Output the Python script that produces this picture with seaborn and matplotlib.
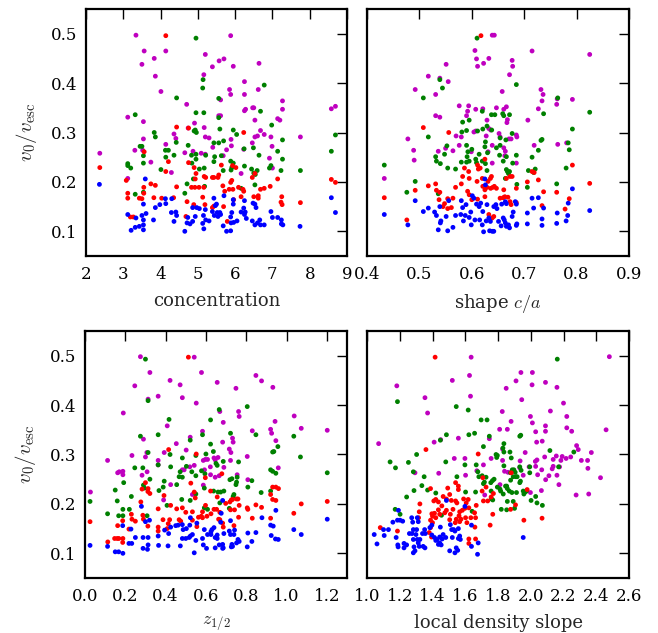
import numpy as np
import pandas as pd
import matplotlib
matplotlib.use("Agg")
import matplotlib.pyplot as plt
import seaborn as sns

# ---------------- data ----------------
# Panel 1: concentration
conc_m_x = [3.34, 3.56, 4.14, 3.83, 3.5, 3.86, 4.01, 5.2, 5.39, 5.16, 4.7, 3.12, 3.54, 4.36, 4.41, 4.91, 5.17, 4.74, 5.2, 5.3,
            4.14, 3.54, 3.31, 3.52, 4.65, 4.87, 5.2, 2.37, 3.74, 4.29, 3.12, 5.09, 5.4,
            5.88, 5.57, 5.7, 5.95, 6.64, 6.25, 5.85, 5.88, 6.25, 6.62, 5.61, 7.27, 7.27, 6.25, 6.28, 6.47, 6.5, 6.53, 7.14,
            7.2, 5.56, 5.61, 8.58, 8.69, 7.75, 6.68, 6.6, 6.53, 6.78, 6.96, 6.99, 6.46, 5.89, 5.9, 5.77, 6.92, 5.68, 6.23,
            6.16, 7.0]
conc_m_y = [0.497, 0.465, 0.465, 0.45, 0.438, 0.414, 0.383, 0.458, 0.433, 0.417, 0.357, 0.331, 0.322, 0.297, 0.288, 0.319,
            0.31, 0.309, 0.291, 0.289, 0.276, 0.287, 0.264, 0.264, 0.259, 0.262, 0.256, 0.258, 0.24, 0.219, 0.207, 0.258, 0.27,
            0.496, 0.445, 0.449, 0.434, 0.44, 0.403, 0.387, 0.377, 0.377, 0.387, 0.366, 0.364, 0.347, 0.344, 0.347, 0.35, 0.35,
            0.325, 0.328, 0.325, 0.334, 0.334, 0.348, 0.353, 0.291, 0.304, 0.293, 0.291, 0.296, 0.291, 0.272, 0.279, 0.286,
            0.273, 0.265, 0.248, 0.253, 0.266, 0.217, 0.228]
conc_g_x = [4.95, 5.14, 5.13, 4.43, 3.32, 4.95, 5.16, 3.83, 3.86, 4.93, 4.9, 4.96, 3.45, 3.5, 4.13, 4.21, 4.42, 4.74, 3.54,
            3.54, 3.12, 3.12, 3.2, 4.14, 4.36, 4.01, 4.83, 4.95, 4.95, 4.84, 5.21, 5.04, 5.17, 4.88, 4.71, 5.18, 3.32, 3.54,
            4.65, 5.43,
            6.78, 6.68, 5.56, 5.56, 6.98, 5.59, 5.95, 6.04, 5.69, 5.56, 7.27, 7.14, 8.58, 8.69, 6.24, 6.49, 6.64, 7.27, 5.88,
            5.45, 5.63, 5.95, 6.25, 5.89, 5.68, 5.91, 6.44, 6.59, 6.54, 6.5, 6.96, 6.92, 7.23, 7.75, 6.16, 6.53, 5.43]
conc_g_y = [0.491, 0.407, 0.39, 0.37, 0.336, 0.34, 0.34, 0.3, 0.291, 0.305, 0.303, 0.3, 0.272, 0.272, 0.264, 0.264, 0.28,
            0.274, 0.253, 0.238, 0.237, 0.233, 0.228, 0.25, 0.254, 0.225, 0.254, 0.256, 0.246, 0.238, 0.254, 0.226, 0.228,
            0.206, 0.196, 0.191, 0.175, 0.179, 0.177, 0.279,
            0.396, 0.343, 0.369, 0.33, 0.315, 0.307, 0.305, 0.296, 0.283, 0.279, 0.285, 0.262, 0.262, 0.295, 0.267, 0.269,
            0.254, 0.246, 0.242, 0.251, 0.253, 0.238, 0.232, 0.224, 0.223, 0.229, 0.226, 0.223, 0.215, 0.218, 0.233, 0.228,
            0.223, 0.223, 0.187, 0.194, 0.241]
conc_r_x = [4.14, 4.43, 4.75, 3.56, 2.37, 4.14, 4.21, 4.75, 4.9, 4.95, 3.08, 3.74, 3.86, 4.43, 5.17, 5.39, 5.21, 3.12, 3.12,
            3.55, 3.55, 3.43, 3.5, 3.82, 4.03, 4.35, 4.71, 4.83, 4.92, 5.03, 4.93, 5.16, 5.13, 5.19, 4.68, 4.89, 5.39, 3.27,
            3.19,
            6.23, 5.93, 6.02, 5.63, 5.54, 5.43, 5.56, 5.67, 5.88, 5.91, 5.94, 6.09, 5.84, 6.46, 6.53, 6.94, 7.14, 6.68, 6.78,
            6.62, 6.5, 6.62, 6.23, 6.21, 6.16, 5.72, 7.25, 7.23, 7.26, 7.75, 8.58, 8.69, 5.96, 5.69, 5.43, 5.79]
conc_r_y = [0.496, 0.311, 0.309, 0.261, 0.229, 0.221, 0.241, 0.239, 0.229, 0.217, 0.203, 0.196, 0.193, 0.19, 0.211, 0.209,
            0.209, 0.177, 0.167, 0.189, 0.177, 0.167, 0.166, 0.168, 0.167, 0.168, 0.16, 0.189, 0.189, 0.189, 0.206, 0.189,
            0.169, 0.154, 0.13, 0.154, 0.148, 0.129, 0.129,
            0.3, 0.233, 0.229, 0.234, 0.209, 0.209, 0.214, 0.192, 0.199, 0.203, 0.185, 0.189, 0.185, 0.209, 0.217, 0.191,
            0.206, 0.185, 0.187, 0.172, 0.17, 0.167, 0.181, 0.185, 0.17, 0.181, 0.17, 0.159, 0.154, 0.158, 0.205, 0.199,
            0.164, 0.15, 0.151, 0.12]
conc_b_x = [2.36, 3.59, 3.54, 3.86, 3.98, 4.14, 4.13, 4.3, 3.12, 3.34, 3.5, 3.54, 3.61, 3.21, 3.32, 3.43, 3.54, 3.54, 3.81,
            4.29, 4.41, 4.43, 4.36, 4.65, 4.71, 4.79, 4.86, 4.93, 4.73, 4.86, 4.97, 5.04, 5.2, 5.15, 5.13, 5.16, 5.21, 5.3,
            5.43, 5.44, 5.39,
            8.58, 8.69, 5.7, 5.95, 5.95, 5.47, 5.5, 6.25, 6.48, 6.53, 6.56, 6.96, 6.23, 6.27, 5.52, 5.59, 5.54, 5.61, 5.91,
            5.88, 5.89, 5.96, 6.05, 6.16, 6.25, 6.3, 6.46, 6.53, 6.6, 6.68, 6.78, 6.66, 7.0, 7.14, 7.24, 7.24, 7.28, 7.74,
            5.77, 5.88, 5.68]
conc_b_y = [0.195, 0.206, 0.155, 0.148, 0.154, 0.156, 0.166, 0.166, 0.134, 0.127, 0.132, 0.123, 0.136, 0.102, 0.108, 0.11,
            0.113, 0.103, 0.123, 0.138, 0.139, 0.132, 0.12, 0.1, 0.117, 0.115, 0.12, 0.13, 0.128, 0.148, 0.148, 0.146,
            0.144, 0.132, 0.116, 0.105, 0.123, 0.121, 0.167, 0.132, 0.14,
            0.168, 0.138, 0.172, 0.164, 0.155, 0.152, 0.155, 0.162, 0.157, 0.155, 0.148, 0.14, 0.147, 0.139, 0.138, 0.138,
            0.13, 0.134, 0.138, 0.129, 0.117, 0.118, 0.121, 0.139, 0.134, 0.126, 0.121, 0.113, 0.117, 0.113, 0.113, 0.123,
            0.128, 0.128, 0.123, 0.115, 0.113, 0.11, 0.1, 0.101, 0.111]

# Panel 2: shape c/a
shape_m_x = [0.433, 0.478, 0.492, 0.517, 0.539, 0.531, 0.551, 0.555, 0.531, 0.539, 0.576, 0.594, 0.6075, 0.59, 0.592,
             0.606, 0.609, 0.611, 0.6225, 0.6325, 0.639, 0.621, 0.629, 0.6325, 0.636, 0.55, 0.536, 0.564, 0.576, 0.57,
             0.49, 0.58, 0.631, 0.6075, 0.604, 0.6275, 0.489, 0.599, 0.639,
             0.643, 0.715, 0.825, 0.677, 0.678, 0.672, 0.658, 0.732, 0.736, 0.734, 0.763, 0.762, 0.792, 0.727, 0.707,
             0.666, 0.661, 0.647, 0.668, 0.667, 0.685, 0.686, 0.652, 0.654, 0.671, 0.675, 0.661, 0.664, 0.663, 0.685,
             0.719, 0.764, 0.781, 0.639]
shape_m_y = [0.207, 0.287, 0.387, 0.414, 0.41, 0.377, 0.438, 0.403, 0.334, 0.331, 0.354, 0.354, 0.347, 0.334, 0.343,
             0.466, 0.449, 0.434, 0.44, 0.45, 0.497, 0.348, 0.325, 0.308, 0.305, 0.268, 0.262, 0.263, 0.274, 0.293,
             0.244, 0.291, 0.261, 0.303, 0.301, 0.293, 0.264, 0.261, 0.274,
             0.497, 0.465, 0.458, 0.446, 0.434, 0.417, 0.383, 0.387, 0.377, 0.364, 0.368, 0.357, 0.367, 0.348, 0.325,
             0.352, 0.347, 0.35, 0.326, 0.32, 0.295, 0.291, 0.298, 0.291, 0.287, 0.287, 0.269, 0.262, 0.253, 0.238,
             0.274, 0.276, 0.279, 0.238]
shape_g_x = [0.433, 0.476, 0.492, 0.5075, 0.517, 0.539, 0.544, 0.61, 0.62, 0.6375, 0.629, 0.5825, 0.595, 0.581, 0.59,
             0.611, 0.621, 0.5525, 0.548, 0.531, 0.5325, 0.54, 0.554, 0.569, 0.59, 0.6, 0.6075, 0.5925, 0.58, 0.59,
             0.609, 0.625, 0.63, 0.614, 0.62, 0.626, 0.629, 0.626, 0.536, 0.595, 0.591,
             0.685, 0.825, 0.737, 0.764, 0.792, 0.734, 0.732, 0.727, 0.715, 0.784, 0.786, 0.78, 0.762, 0.706, 0.686,
             0.659, 0.661, 0.672, 0.644, 0.638, 0.647, 0.654, 0.665, 0.66, 0.653, 0.666, 0.678, 0.685, 0.666, 0.668,
             0.672, 0.67, 0.664, 0.708, 0.721, 0.718, 0.677, 0.654]
shape_g_y = [0.234, 0.179, 0.201, 0.37, 0.291, 0.407, 0.39, 0.491, 0.343, 0.336, 0.313, 0.321, 0.325, 0.301, 0.304,
             0.303, 0.307, 0.273, 0.256, 0.251, 0.242, 0.237, 0.228, 0.226, 0.274, 0.266, 0.246, 0.261, 0.24, 0.24,
             0.239, 0.271, 0.259, 0.256, 0.242, 0.237, 0.223, 0.281, 0.176, 0.242, 0.251,
             0.397, 0.341, 0.338, 0.37, 0.307, 0.286, 0.284, 0.264, 0.25, 0.279, 0.265, 0.228, 0.196, 0.189, 0.195,
             0.338, 0.334, 0.336, 0.336, 0.305, 0.269, 0.274, 0.285, 0.242, 0.254, 0.251, 0.238, 0.254, 0.225, 0.221,
             0.221, 0.217, 0.207, 0.223, 0.226, 0.219, 0.298, 0.289]
shape_r_x = [0.433, 0.476, 0.492, 0.5075, 0.517, 0.531, 0.5325, 0.539, 0.5375, 0.548, 0.545, 0.554, 0.554, 0.561, 0.564,
             0.569, 0.556, 0.58, 0.5825, 0.586, 0.594, 0.595, 0.592, 0.595, 0.6, 0.611, 0.6125, 0.61, 0.616, 0.62,
             0.621, 0.625, 0.625, 0.629, 0.636, 0.631, 0.6375, 0.611, 0.6175, 0.625, 0.6325,
             0.792, 0.825, 0.727, 0.715, 0.719, 0.706, 0.737, 0.762, 0.786, 0.778, 0.734, 0.685, 0.685, 0.669, 0.673,
             0.675, 0.663, 0.66, 0.654, 0.661, 0.673, 0.677, 0.666, 0.643, 0.64, 0.647, 0.6355, 0.639, 0.642]
shape_r_y = [0.168, 0.123, 0.183, 0.31, 0.192, 0.196, 0.183, 0.179, 0.164, 0.156, 0.15, 0.166, 0.146, 0.148, 0.167,
             0.189, 0.3, 0.196, 0.211, 0.228, 0.221, 0.207, 0.181, 0.174, 0.164, 0.234, 0.226, 0.201, 0.228, 0.207,
             0.191, 0.184, 0.17, 0.189, 0.187, 0.201, 0.211, 0.165, 0.496, 0.246, 0.134,
             0.234, 0.197, 0.204, 0.221, 0.219, 0.2, 0.18, 0.179, 0.166, 0.145, 0.152, 0.187, 0.158, 0.169, 0.16,
             0.154, 0.17, 0.168, 0.167, 0.184, 0.211, 0.211, 0.207, 0.191, 0.189, 0.187, 0.207, 0.127, 0.13]
shape_b_x = [0.433, 0.478, 0.492, 0.5075, 0.517, 0.529, 0.5325, 0.539, 0.54, 0.536, 0.541, 0.551, 0.554, 0.556, 0.564,
             0.569, 0.58, 0.5825, 0.579, 0.584, 0.5875, 0.589, 0.595, 0.598, 0.599, 0.606, 0.601, 0.604, 0.609, 0.614,
             0.617, 0.621, 0.625, 0.626, 0.629, 0.6275, 0.6325, 0.62, 0.6225, 0.615, 0.634,
             0.792, 0.825, 0.784, 0.783, 0.78, 0.763, 0.762, 0.737, 0.734, 0.734, 0.727, 0.715, 0.718, 0.706, 0.706,
             0.685, 0.683, 0.679, 0.677, 0.686, 0.685, 0.67, 0.672, 0.666, 0.664, 0.66, 0.662, 0.656, 0.651, 0.646,
             0.648, 0.642, 0.6355, 0.639, 0.642, 0.657, 0.666, 0.664]
shape_b_y = [0.134, 0.113, 0.162, 0.14, 0.147, 0.139, 0.132, 0.15, 0.117, 0.103, 0.121, 0.13, 0.101, 0.162, 0.108,
             0.132, 0.162, 0.148, 0.134, 0.121, 0.132, 0.154, 0.128, 0.139, 0.113, 0.123, 0.172, 0.167, 0.155, 0.15,
             0.157, 0.14, 0.206, 0.194, 0.154, 0.121, 0.127, 0.113, 0.099, 0.123, 0.101,
             0.186, 0.142, 0.157, 0.132, 0.121, 0.137, 0.116, 0.147, 0.125, 0.112, 0.168, 0.167, 0.147, 0.137, 0.115,
             0.155, 0.16, 0.139, 0.13, 0.115, 0.112, 0.113, 0.107, 0.11, 0.117, 0.127, 0.123, 0.111, 0.12, 0.154,
             0.146, 0.15, 0.12, 0.1, 0.1, 0.155, 0.156, 0.16]

# Panel 3: z_1/2
z_m_x = [0.275, 0.322, 0.247, 0.313, 0.363, 0.422, 0.472, 0.483, 0.542, 0.552, 0.578, 0.19, 0.408, 0.29, 0.522, 0.583,
         0.453, 0.112, 0.233, 0.3, 0.307, 0.393, 0.363, 0.363, 0.502, 0.483, 0.492, 0.162, 0.17, 0.188, 0.188, 0.283,
         0.308, 0.52, 0.542, 0.587, 0.597, 0.608, 0.622, 0.587, 0.593, 0.425, 0.39, 0.027, 0.533,
         0.848, 0.876, 0.932, 0.749, 0.656, 0.762, 0.765, 0.669, 1.038, 1.073, 1.202, 0.943, 0.921, 0.926, 0.83,
         0.686, 0.732, 0.735, 0.947, 0.716, 0.724, 0.683, 0.64, 0.646, 0.66, 0.722, 0.689, 0.805, 0.959, 0.755,
         0.666, 0.646, 0.623, 0.808]
z_m_y = [0.498, 0.466, 0.439, 0.412, 0.418, 0.45, 0.441, 0.415, 0.497, 0.404, 0.466, 0.384, 0.358, 0.331, 0.335, 0.347,
         0.322, 0.288, 0.298, 0.295, 0.304, 0.304, 0.288, 0.279, 0.309, 0.269, 0.269, 0.263, 0.265, 0.266, 0.259, 0.258,
         0.265, 0.275, 0.278, 0.288, 0.29, 0.29, 0.275, 0.238, 0.269, 0.239, 0.208, 0.224, 0.219,
         0.46, 0.449, 0.436, 0.434, 0.446, 0.387, 0.377, 0.387, 0.378, 0.353, 0.349, 0.367, 0.351, 0.343, 0.348,
         0.365, 0.333, 0.325, 0.328, 0.311, 0.304, 0.325, 0.293, 0.289, 0.294, 0.288, 0.274, 0.296, 0.273, 0.259,
         0.257, 0.254, 0.259, 0.249]
z_g_x = [0.3, 0.313, 0.417, 0.363, 0.275, 0.623, 0.583, 0.522, 0.623, 0.313, 0.422, 0.363, 0.55, 0.6, 0.637, 0.247,
         0.287, 0.425, 0.483, 0.503, 0.472, 0.467, 0.483, 0.53, 0.578, 0.595, 0.55, 0.322, 0.192, 0.393, 0.29, 0.295,
         0.15, 0.23, 0.388, 0.367, 0.455, 0.592, 0.55, 0.522, 0.48, 0.16, 0.025, 0.112, 0.188, 0.22, 0.167, 0.188,
         0.308, 0.407, 0.592, 0.608, 0.638,
         0.805, 0.848, 0.666, 1.036, 1.069, 1.202, 0.722, 0.762, 0.937, 0.931, 0.957, 0.686, 0.65, 0.656, 0.921,
         0.931, 0.947, 0.755, 0.729, 0.719, 0.752, 0.749, 0.828, 0.808, 0.874, 0.66, 0.673, 0.689, 0.739, 0.735,
         0.921, 0.669, 0.716]
z_g_y = [0.493, 0.409, 0.371, 0.34, 0.337, 0.37, 0.34, 0.329, 0.321, 0.304, 0.3, 0.279, 0.298, 0.301, 0.306, 0.273,
         0.273, 0.275, 0.293, 0.276, 0.265, 0.255, 0.254, 0.265, 0.267, 0.261, 0.257, 0.25, 0.243, 0.246, 0.238, 0.232,
         0.228, 0.215, 0.234, 0.227, 0.239, 0.232, 0.22, 0.207, 0.209, 0.206, 0.205, 0.18, 0.189, 0.189, 0.176, 0.176,
         0.176, 0.197, 0.192, 0.189, 0.226,
         0.397, 0.34, 0.391, 0.337, 0.295, 0.263, 0.343, 0.285, 0.306, 0.305, 0.316, 0.286, 0.282, 0.278, 0.269,
         0.266, 0.262, 0.254, 0.251, 0.249, 0.244, 0.239, 0.247, 0.234, 0.223, 0.224, 0.224, 0.226, 0.219, 0.215,
         0.226, 0.202, 0.191]
z_r_x = [0.513, 0.415, 0.552, 0.3, 0.283, 0.313, 0.322, 0.312, 0.277, 0.525, 0.542, 0.597, 0.623, 0.598, 0.363, 0.392,
         0.425, 0.455, 0.483, 0.5, 0.533, 0.547, 0.583, 0.577, 0.605, 0.625, 0.23, 0.233, 0.25, 0.187, 0.162, 0.287,
         0.29, 0.312, 0.387, 0.413, 0.42, 0.467, 0.475, 0.363, 0.363, 0.408, 0.533, 0.563, 0.555, 0.583, 0.113, 0.147,
         0.16, 0.168, 0.188, 0.187, 0.218, 0.025,
         0.679, 0.931, 0.947, 0.96, 0.921, 0.931, 0.947, 0.656, 0.719, 0.726, 0.732, 0.752, 0.759, 0.765, 0.698,
         0.722, 0.742, 0.64, 0.653, 0.669, 0.805, 0.808, 0.848, 0.876, 0.921, 1.036, 1.073, 1.202, 0.83, 0.762,
         0.663, 0.669, 0.683, 0.686, 0.739]
z_r_y = [0.497, 0.31, 0.301, 0.243, 0.23, 0.231, 0.221, 0.225, 0.204, 0.242, 0.224, 0.253, 0.226, 0.197, 0.19, 0.217,
         0.197, 0.19, 0.192, 0.183, 0.184, 0.212, 0.184, 0.175, 0.175, 0.18, 0.179, 0.169, 0.165, 0.166, 0.156, 0.177,
         0.169, 0.155, 0.168, 0.16, 0.168, 0.168, 0.165, 0.153, 0.145, 0.15, 0.167, 0.173, 0.154, 0.172, 0.123, 0.13,
         0.13, 0.13, 0.13, 0.122, 0.149, 0.164,
         0.261, 0.234, 0.234, 0.231, 0.219, 0.209, 0.207, 0.214, 0.204, 0.208, 0.209, 0.21, 0.21, 0.197, 0.201,
         0.188, 0.188, 0.189, 0.189, 0.183, 0.192, 0.189, 0.198, 0.193, 0.171, 0.181, 0.2, 0.205, 0.171, 0.173,
         0.169, 0.168, 0.161, 0.153, 0.156]
z_b_x = [0.025, 0.112, 0.15, 0.167, 0.188, 0.187, 0.218, 0.232, 0.228, 0.25, 0.28, 0.288, 0.288, 0.31, 0.313, 0.313,
         0.3, 0.32, 0.363, 0.365, 0.395, 0.415, 0.412, 0.425, 0.45, 0.462, 0.473, 0.483, 0.487, 0.5, 0.517, 0.523, 0.52,
         0.523, 0.533, 0.55, 0.542, 0.555, 0.583, 0.587, 0.592, 0.603, 0.608, 0.625, 0.625, 0.483, 0.503,
         0.947, 1.202, 0.683, 0.676, 0.722, 0.878, 0.921, 0.934, 1.036, 1.073, 0.848, 0.808, 0.828, 0.924, 0.945,
         0.959, 0.805, 0.759, 0.765, 0.752, 0.742, 0.739, 0.722, 0.729, 0.726, 0.732, 0.689, 0.656, 0.646, 0.656,
         0.666, 0.683, 0.686, 0.683, 0.64, 0.646, 0.63, 0.673, 0.716]
z_b_y = [0.116, 0.114, 0.103, 0.103, 0.1, 0.156, 0.12, 0.12, 0.149, 0.132, 0.195, 0.132, 0.11, 0.108, 0.117, 0.132,
         0.164, 0.167, 0.135, 0.116, 0.147, 0.14, 0.115, 0.153, 0.156, 0.157, 0.115, 0.13, 0.148, 0.13, 0.132, 0.172,
         0.157, 0.135, 0.138, 0.126, 0.101, 0.161, 0.13, 0.117, 0.148, 0.11, 0.138, 0.144, 0.138, 0.158, 0.15,
         0.187, 0.169, 0.207, 0.181, 0.166, 0.172, 0.157, 0.155, 0.148, 0.138, 0.142, 0.141, 0.124, 0.136, 0.129,
         0.128, 0.113, 0.128, 0.124, 0.121, 0.147, 0.138, 0.138, 0.118, 0.113, 0.114, 0.14, 0.137, 0.132, 0.13,
         0.117, 0.118, 0.111, 0.11, 0.152, 0.111, 0.148, 0.163, 0.145]

# Panel 4: local density slope
slope_m_x = [1.071, 1.182, 1.354, 1.37, 1.521, 1.626, 1.636, 1.632, 1.41, 1.45, 1.558, 1.747, 1.293, 1.438, 1.533,
             1.598, 1.602, 1.671, 1.711, 1.758, 1.719,
             2.48, 1.94, 2.01, 1.91, 1.85, 2.008, 2.09, 2.16, 1.945, 1.826, 2.12, 2.2, 1.998, 2.01, 2.22, 1.88, 1.81,
             1.857, 2.09, 2.09, 2.22, 2.25, 2.03, 2.46, 2.036, 2.07, 2.28, 2.29, 2.37, 1.828, 1.966, 1.828, 1.935,
             2.038, 2.028, 2.085, 2.156, 2.192, 2.216, 2.244, 2.137, 2.137, 2.131, 2.184, 2.176, 2.309, 2.347, 2.349,
             2.426, 1.933, 1.99, 2.03, 1.84, 1.861, 2.067, 2.042, 2.111, 2.16, 2.091, 2.172, 1.954, 1.812, 1.998,
             2.065, 2.277, 2.354]
slope_m_y = [0.322, 0.439, 0.415, 0.384, 0.45, 0.46, 0.497, 0.418, 0.325, 0.33, 0.333, 0.332, 0.263, 0.262, 0.292,
             0.292, 0.258, 0.267, 0.279, 0.292, 0.218,
             0.498, 0.466, 0.466, 0.449, 0.434, 0.441, 0.446, 0.436, 0.411, 0.387, 0.388, 0.404, 0.377, 0.364, 0.377,
             0.367, 0.351, 0.351, 0.358, 0.347, 0.354, 0.347, 0.346, 0.35, 0.325, 0.327, 0.318, 0.31, 0.304, 0.311,
             0.304, 0.288, 0.287, 0.289, 0.286, 0.295, 0.297, 0.296, 0.292, 0.295, 0.29, 0.276, 0.271, 0.288, 0.275,
             0.288, 0.288, 0.272, 0.253, 0.273, 0.275, 0.276, 0.266, 0.264, 0.269, 0.259, 0.257, 0.258, 0.249, 0.239,
             0.258, 0.239, 0.223, 0.227, 0.218, 0.22]
slope_g_x = [1.186, 1.545, 1.618, 1.697, 1.733, 1.657, 1.622, 1.747, 1.485, 1.448, 1.711, 1.303, 1.141, 1.174, 1.253,
             1.481, 1.598, 1.667, 1.283, 1.349, 1.549, 1.677, 1.683, 1.703, 1.727, 1.711, 1.717, 1.335, 1.37, 1.287,
             1.42, 1.242, 1.602, 1.663, 1.642, 1.455, 1.172, 1.202, 1.758,
             2.162, 1.933, 1.939, 1.836, 1.83, 1.836, 1.788, 1.796, 1.792, 1.881, 1.873, 2.117, 2.263, 1.836, 1.933,
             1.941, 1.994, 1.994, 2.17, 1.887, 1.897, 1.905, 1.877, 1.893, 1.909, 1.917, 1.776, 1.766, 1.756, 1.937,
             1.933, 1.877, 1.796, 1.816, 1.832, 1.812, 1.846, 1.857, 1.853, 1.869, 1.885, 1.913, 1.958, 1.966, 1.974,
             2.002, 2.03, 2.038, 2.071, 1.857, 1.893, 1.82, 1.853, 1.901, 1.76, 1.768, 1.954]
slope_g_y = [0.407, 0.397, 0.39, 0.37, 0.37, 0.343, 0.34, 0.337, 0.34, 0.329, 0.316, 0.3, 0.285, 0.273, 0.284, 0.285,
             0.279, 0.279, 0.265, 0.255, 0.255, 0.265, 0.255, 0.257, 0.254, 0.241, 0.244, 0.237, 0.228, 0.227, 0.222,
             0.214, 0.224, 0.224, 0.185, 0.177, 0.189, 0.179, 0.226,
             0.493, 0.337, 0.339, 0.322, 0.313, 0.305, 0.3, 0.298, 0.294, 0.293, 0.305, 0.308, 0.305, 0.277, 0.275,
             0.268, 0.275, 0.263, 0.275, 0.269, 0.269, 0.264, 0.263, 0.255, 0.255, 0.255, 0.25, 0.247, 0.243, 0.246,
             0.243, 0.248, 0.234, 0.226, 0.22, 0.23, 0.236, 0.231, 0.236, 0.226, 0.223, 0.223, 0.22, 0.224, 0.226,
             0.207, 0.215, 0.202, 0.197, 0.205, 0.205, 0.189, 0.188, 0.191, 0.21, 0.208, 0.226]
slope_r_x = [1.416, 1.36, 1.679, 1.388, 1.493, 1.541, 1.558, 1.558, 1.465, 1.42, 1.408, 1.436, 1.457, 1.485, 1.505,
             1.515, 1.541, 1.549, 1.525, 1.485, 1.475, 1.396, 1.412, 1.4, 1.42, 1.388, 1.4, 1.436, 1.444, 1.323, 1.319,
             1.315, 1.59, 1.618, 1.606, 1.622, 1.598, 1.582, 1.566, 1.562, 1.574, 1.545, 1.539, 1.566, 1.602, 1.61,
             1.634, 1.663, 1.657, 1.667, 1.505, 1.509, 1.703, 1.711, 1.707, 1.737, 1.758, 1.659, 1.768, 1.752, 1.622,
             1.622, 1.663, 1.388, 1.38, 1.394, 1.186, 1.081, 1.727,
             1.881, 1.978, 1.907, 1.877, 1.772, 1.958, 2.069]
slope_r_y = [0.497, 0.31, 0.301, 0.231, 0.232, 0.243, 0.236, 0.229, 0.215, 0.209, 0.206, 0.204, 0.196, 0.21, 0.219,
             0.207, 0.206, 0.202, 0.189, 0.187, 0.182, 0.18, 0.181, 0.175, 0.172, 0.167, 0.162, 0.188, 0.179, 0.2,
             0.184, 0.172, 0.21, 0.209, 0.202, 0.192, 0.191, 0.187, 0.184, 0.176, 0.169, 0.169, 0.162, 0.164, 0.172,
             0.162, 0.172, 0.172, 0.182, 0.197, 0.168, 0.179, 0.226, 0.206, 0.253, 0.206, 0.214, 0.153, 0.179, 0.157,
             0.129, 0.12, 0.129, 0.152, 0.142, 0.133, 0.145, 0.152, 0.234,
             0.263, 0.229, 0.198, 0.189, 0.221, 0.167, 0.171]
slope_b_x = [1.044, 1.061, 1.101, 1.105, 1.131, 1.158, 1.186, 1.202, 1.218, 1.192, 1.178, 1.188, 1.19, 1.226, 1.226,
             1.242, 1.273, 1.279, 1.307, 1.313, 1.259, 1.275, 1.299, 1.303, 1.283, 1.283, 1.287, 1.283, 1.293, 1.307,
             1.313, 1.319, 1.323, 1.343, 1.354, 1.339, 1.356, 1.352, 1.384, 1.396, 1.396, 1.412, 1.42, 1.428, 1.436,
             1.444, 1.453, 1.444, 1.459, 1.448, 1.465, 1.481, 1.485, 1.509, 1.517, 1.529, 1.537, 1.505, 1.537, 1.545,
             1.554, 1.521, 1.558, 1.566, 1.57, 1.558, 1.598, 1.638, 1.638, 1.679, 1.675,
             1.954]
slope_b_y = [0.138, 0.119, 0.148, 0.136, 0.148, 0.163, 0.167, 0.167, 0.165, 0.187, 0.132, 0.117, 0.113, 0.12, 0.111,
             0.117, 0.172, 0.163, 0.172, 0.164, 0.14, 0.14, 0.138, 0.148, 0.148, 0.128, 0.113, 0.101, 0.105, 0.128,
             0.121, 0.114, 0.128, 0.114, 0.111, 0.14, 0.14, 0.148, 0.152, 0.157, 0.137, 0.132, 0.126, 0.128, 0.118,
             0.121, 0.117, 0.133, 0.129, 0.153, 0.138, 0.132, 0.207, 0.158, 0.148, 0.148, 0.145, 0.105, 0.101, 0.111,
             0.106, 0.132, 0.13, 0.135, 0.128, 0.15, 0.195, 0.157, 0.114, 0.121, 0.098,
             0.132]

# axis settings
panel_xlabels = ["concentration", "shape $c/a$", "$z_{1/2}$", "local density slope"]
panel_xlims = [(2, 9), (0.4, 0.9), (0.0, 1.3), (1.0, 2.6)]
panel_xticks = [[2, 3, 4, 5, 6, 7, 8, 9],
                [0.4, 0.5, 0.6, 0.7, 0.8, 0.9],
                [0.0, 0.2, 0.4, 0.6, 0.8, 1.0, 1.2],
                [1.0, 1.2, 1.4, 1.6, 1.8, 2.0, 2.2, 2.4, 2.6]]
panel_xticklabels = [["2", "3", "4", "5", "6", "7", "8", "9"],
                     ["0.4", "0.5", "0.6", "0.7", "0.8", "0.9"],
                     ["0.0", "0.2", "0.4", "0.6", "0.8", "1.0", "1.2"],
                     ["1.0", "1.2", "1.4", "1.6", "1.8", "2.0", "2.2", "2.4", "2.6"]]
yticks = [0.1, 0.2, 0.3, 0.4, 0.5]
ytick_labels = ["0.1", "0.2", "0.3", "0.4", "0.5"]
ylabel = r"$v_0/v_{\rm esc}$"

series = [
    [(conc_m_x, conc_m_y), (conc_g_x, conc_g_y), (conc_r_x, conc_r_y), (conc_b_x, conc_b_y)],
    [(shape_m_x, shape_m_y), (shape_g_x, shape_g_y), (shape_r_x, shape_r_y), (shape_b_x, shape_b_y)],
    [(z_m_x, z_m_y), (z_g_x, z_g_y), (z_r_x, z_r_y), (z_b_x, z_b_y)],
    [(slope_m_x, slope_m_y), (slope_g_x, slope_g_y), (slope_r_x, slope_r_y), (slope_b_x, slope_b_y)],
]
groups = ["m", "g", "r", "b"]
palette = {"m": "#bf00bf", "g": "#008000", "r": "#ff0000", "b": "#0000ff"}

# ---------------- style ----------------
sns.set_theme(style="white")
plt.rcParams.update({
    "font.family": ["DejaVu Serif"],
    "mathtext.fontset": "cm",
    "font.size": 12,
    "axes.linewidth": 1.6,
    "axes.edgecolor": "black",
    "xtick.direction": "in",
    "ytick.direction": "in",
    "xtick.top": True,
    "ytick.right": True,
    "xtick.major.size": 7,
    "ytick.major.size": 7,
    "xtick.major.width": 1.0,
    "ytick.major.width": 1.0,
    "xtick.major.pad": 7,
    "ytick.major.pad": 6,
    "xtick.labelsize": 12,
    "ytick.labelsize": 12,
    "axes.labelsize": 13,
    "xtick.color": "black",
    "ytick.color": "black",
})

fig = plt.figure(figsize=(6.58, 6.33), dpi=100)
positions = [
    [86 / 658, 1 - 256 / 633, 261 / 658, 247 / 633],
    [367 / 658, 1 - 256 / 633, 262 / 658, 247 / 633],
    [85 / 658, 1 - 578 / 633, 262 / 658, 247 / 633],
    [367 / 658, 1 - 578 / 633, 262 / 658, 247 / 633],
]

for i in range(4):
    ax = fig.add_axes(positions[i])
    frames = []
    for g, (xs, ys) in zip(groups, series[i]):
        frames.append(pd.DataFrame({"x": xs, "y": ys, "grp": g}))
    df = pd.concat(frames, ignore_index=True)
    sns.scatterplot(data=df, x="x", y="y", hue="grp", palette=palette, s=12,
                    linewidth=0, legend=False, ax=ax)
    ax.set_xlim(*panel_xlims[i])
    ax.set_ylim(0.05, 0.55)
    ax.set_xticks(panel_xticks[i])
    ax.set_xticklabels(panel_xticklabels[i])
    ax.set_yticks(yticks)
    ax.set_xlabel(panel_xlabels[i], labelpad=7)
    if i % 2 == 0:
        ax.set_yticklabels(ytick_labels)
        ax.set_ylabel(ylabel, labelpad=9, fontsize=15)
    else:
        ax.set_yticklabels([])
        ax.set_ylabel("")
    ax.tick_params(which="both", top=True, right=True, direction="in")
    for sp in ax.spines.values():
        sp.set_visible(True)
        sp.set_linewidth(1.6)
        sp.set_color("black")

fig.savefig("out.png", dpi=100, facecolor="white")
